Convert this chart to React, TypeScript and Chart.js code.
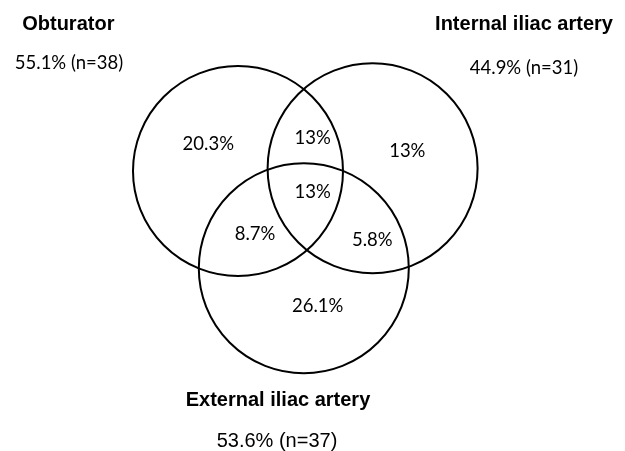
import React, { useEffect, useRef } from "react";
import { Chart, registerables } from "chart.js";

Chart.register(...registerables);

// ---- data ----
const setNames = ["Obturator", "Internal iliac artery", "External iliac artery"];
const setPercents = [55.1, 44.9, 53.6];
const setCounts = [38, 31, 37];
const regionNames = [
  "Obturator only",
  "Obturator + Internal iliac",
  "Internal iliac only",
  "All three",
  "Obturator + External iliac",
  "Internal + External iliac",
  "External iliac only",
];
const regionPercents = [20.3, 13, 13, 13, 8.7, 5.8, 26.1];

// ---- layout (scale units equal to page pixels) ----
const circleCenters = [
  { x: 238, y: 171 },
  { x: 372.6, y: 168.3 },
  { x: 303.8, y: 268.3 },
];
const circleRadius = 105;
const setTitlePos = [
  { x: 68.3, y: 30 },
  { x: 524, y: 29.5 },
  { x: 278, y: 406 },
];
const setSubPos = [
  { x: 69, y: 68.5 },
  { x: 524, y: 73.5 },
  { x: 277, y: 446.7 },
];
const regionPos = [
  { x: 208.3, y: 150 },
  { x: 312.7, y: 144 },
  { x: 407.3, y: 157 },
  { x: 312.7, y: 197.5 },
  { x: 255, y: 240 },
  { x: 372.3, y: 245.5 },
  { x: 317.7, y: 311.5 },
];

const W = 625;
const H = 451;

const labelPlugin = {
  id: "vennLabels",
  afterDatasetsDraw(chart: any) {
    const ctx = chart.ctx;
    const xs = chart.scales.x;
    const ys = chart.scales.y;
    ctx.save();
    ctx.fillStyle = "#000";
    ctx.textAlign = "center";
    ctx.textBaseline = "alphabetic";
    setNames.forEach((name, i) => {
      ctx.font = "bold 20px 'Liberation Sans', Arial, sans-serif";
      ctx.fillText(name, xs.getPixelForValue(setTitlePos[i].x), ys.getPixelForValue(setTitlePos[i].y));
      const sub = `${setPercents[i]}% (n=${setCounts[i]})`;
      ctx.font = i === 2 ? "20px 'Liberation Sans', Arial, sans-serif" : "18.5px Lato, sans-serif";
      ctx.fillText(sub, xs.getPixelForValue(setSubPos[i].x), ys.getPixelForValue(setSubPos[i].y));
    });
    ctx.font = "18.5px Lato, sans-serif";
    regionPercents.forEach((v, i) => {
      ctx.fillText(`${v}%`, xs.getPixelForValue(regionPos[i].x), ys.getPixelForValue(regionPos[i].y));
    });
    ctx.restore();
  },
};

export default function App() {
  const ref = useRef<HTMLCanvasElement | null>(null);
  useEffect(() => {
    if (!ref.current) return;
    const chart = new Chart(ref.current, {
      type: "bubble",
      data: {
        datasets: [
          {
            label: "Sets",
            data: circleCenters.map((c) => ({ x: c.x, y: c.y, r: circleRadius })),
            backgroundColor: "rgba(0,0,0,0)",
            borderColor: "#000",
            borderWidth: 2,
            hoverBorderWidth: 2,
            clip: false,
          },
        ],
      },
      options: {
        responsive: false,
        animation: false,
        events: [],
        layout: { padding: 0, autoPadding: false },
        plugins: { legend: { display: false }, tooltip: { enabled: false } },
        scales: {
          x: { type: "linear", min: 0, max: W, display: false },
          y: { type: "linear", min: 0, max: H, reverse: true, display: false },
        },
      },
      plugins: [labelPlugin],
    });
    return () => chart.destroy();
  }, []);
  return (
    <div style={{ position: "fixed", left: 0, top: 0, width: W, height: H, background: "#fff" }}>
      <canvas ref={ref} width={W} height={H} style={{ display: "block" }} />
    </div>
  );
}
